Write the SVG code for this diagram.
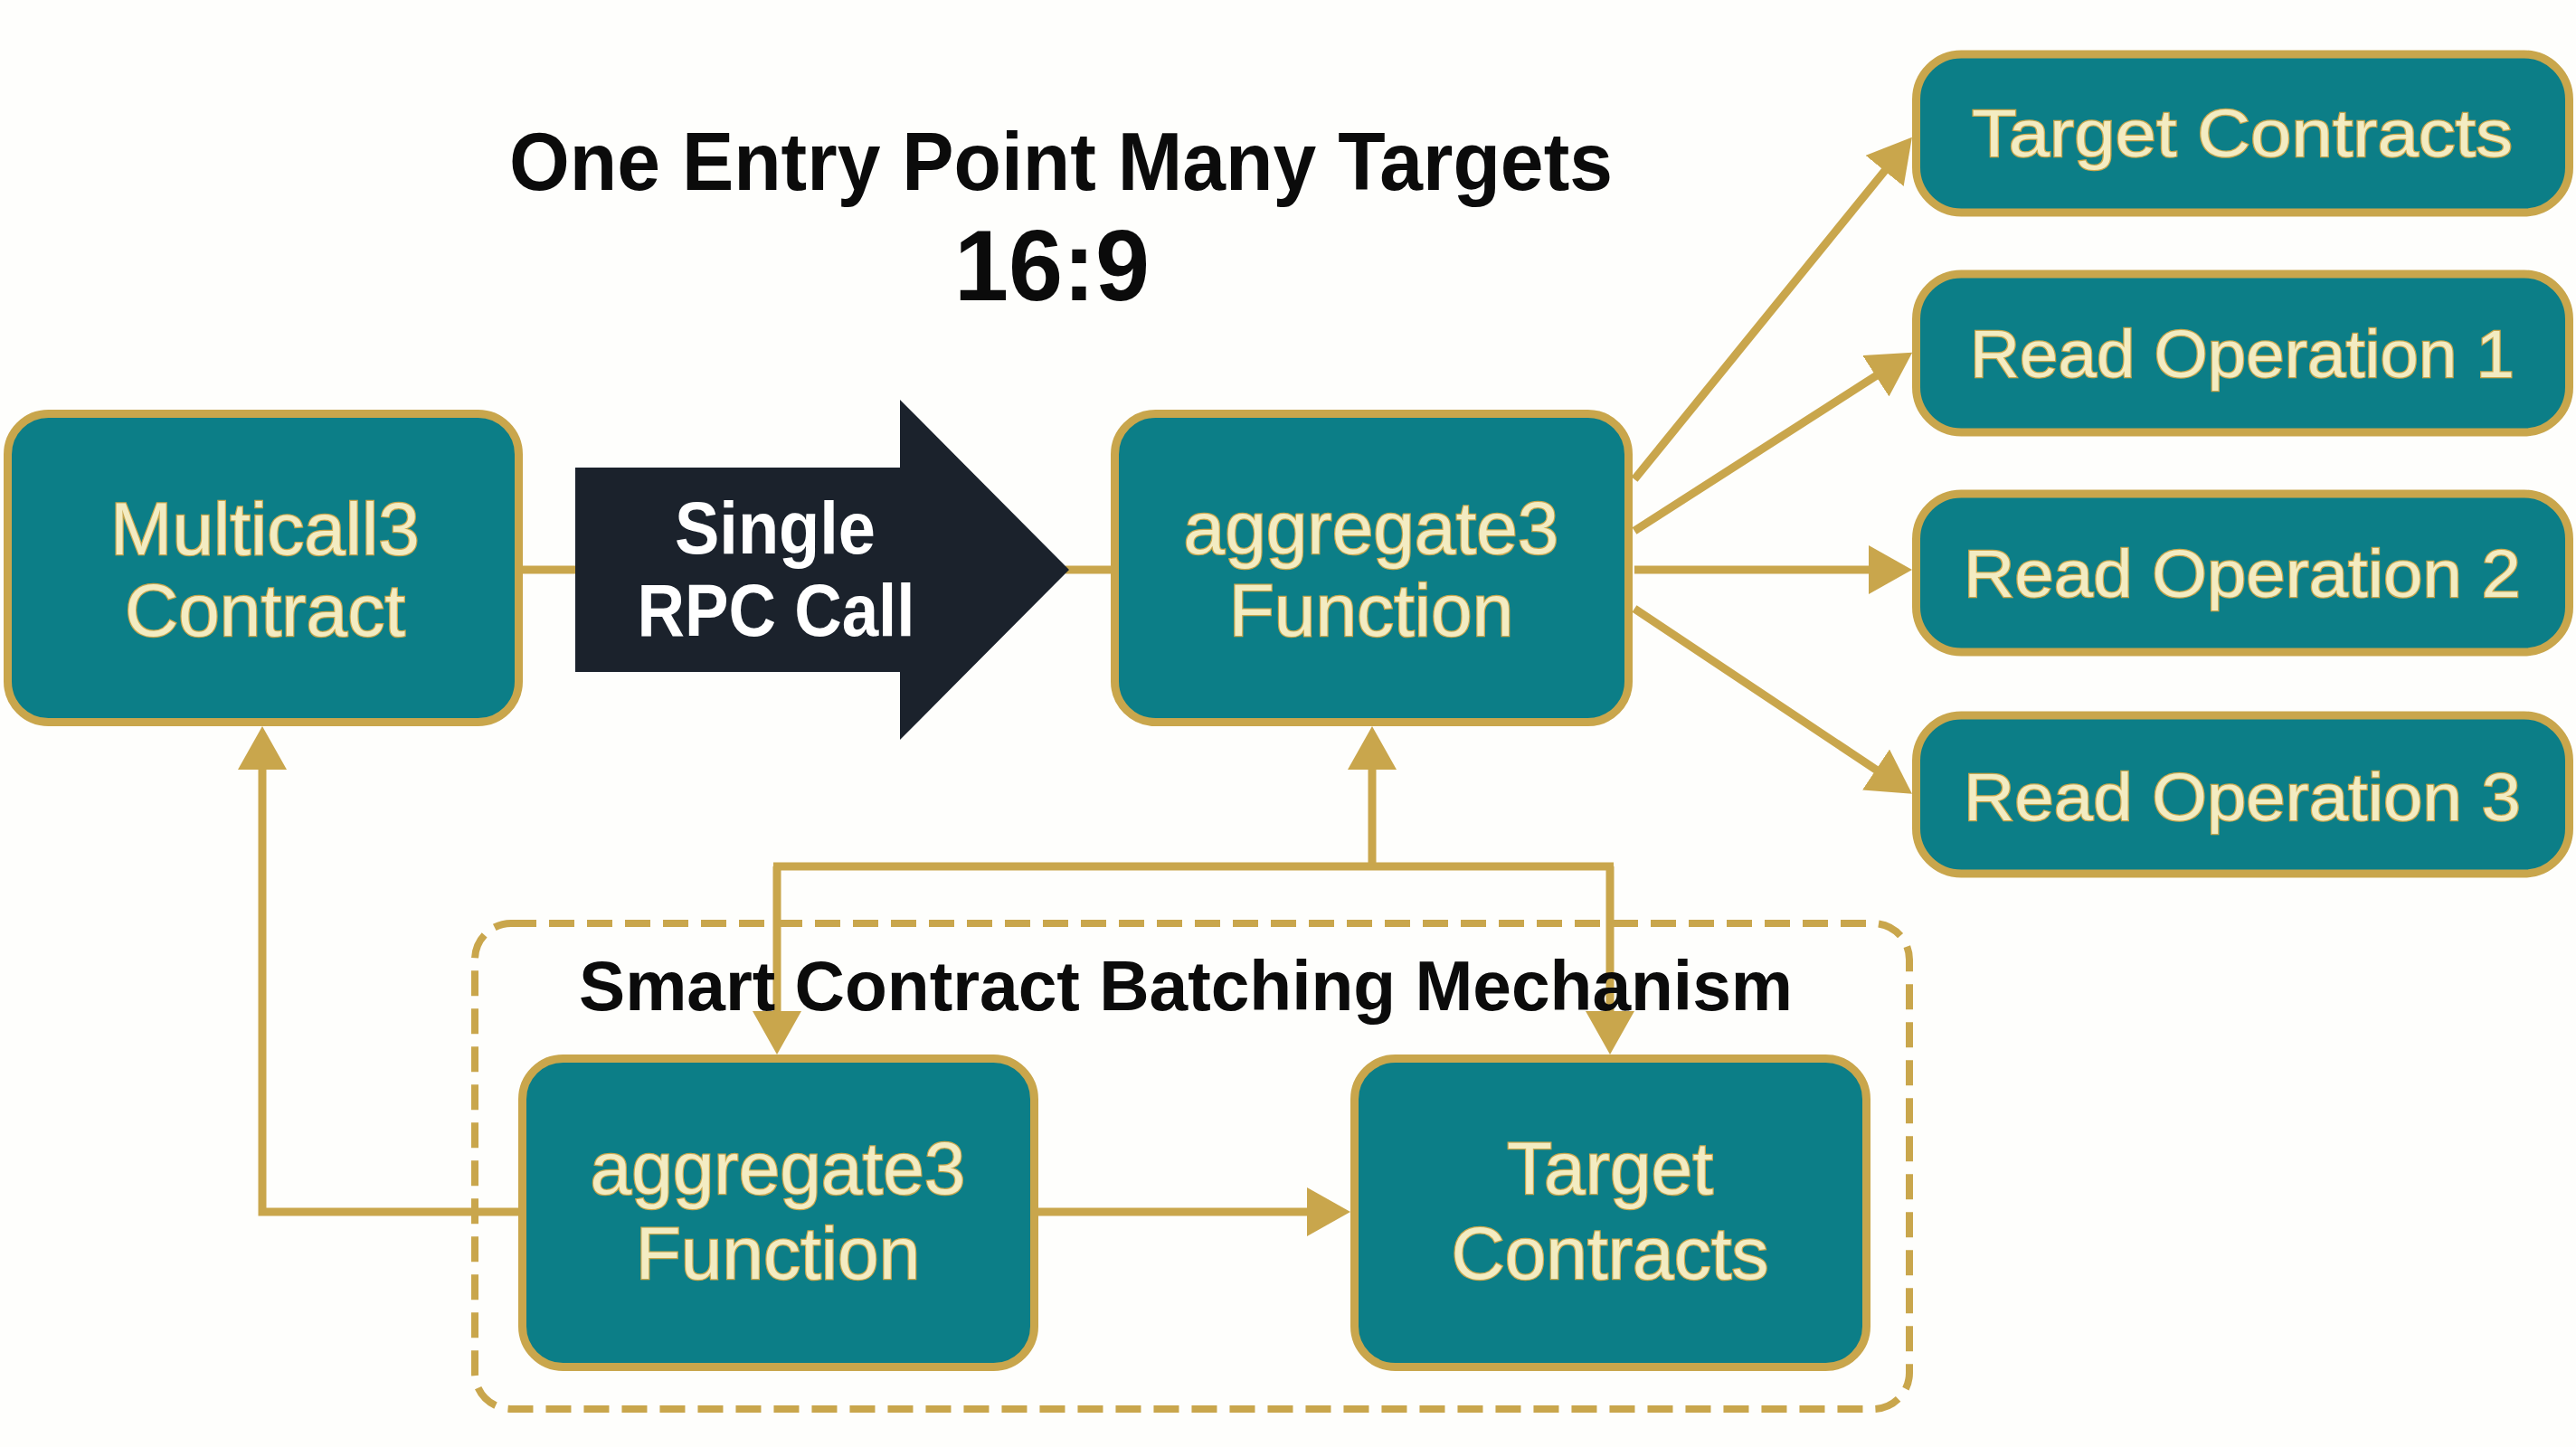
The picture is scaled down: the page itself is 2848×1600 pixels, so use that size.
<svg xmlns="http://www.w3.org/2000/svg" width="2848" height="1600" viewBox="0 0 2848 1600">
<style>
.bg{fill:#fefefc}
.box{fill:#0c7e87;stroke:#c9a64c;stroke-width:9}
.lbl{font-family:"Liberation Sans",Arial,sans-serif;font-size:82px;fill:#f3ecc2;stroke:#c9a64c;stroke-width:2.5;paint-order:stroke;text-anchor:middle}
.rl{font-size:74px}
.conn{fill:none;stroke:#c9a64c;stroke-width:9}
.dash{fill:none;stroke:#c9a64c;stroke-width:8;stroke-dasharray:28 14}
.ttl{font-family:"Liberation Sans",Arial,sans-serif;font-weight:bold;fill:#0b0b0b;text-anchor:middle}
.wt{font-family:"Liberation Sans",Arial,sans-serif;font-weight:bold;font-size:82px;fill:#ffffff;text-anchor:middle}
</style>
<defs>
<marker id="ah" markerUnits="userSpaceOnUse" markerWidth="48" markerHeight="54" viewBox="0 0 48 54" refX="18" refY="27" orient="auto">
<path d="M0,0 L48,27 L0,54 z" fill="#c9a64c"/>
</marker>
</defs>
<rect class="bg" x="0" y="0" width="2848" height="1600"/>

<g id="title">
<text class="ttl" x="1173" y="210" font-size="91" textLength="1220" lengthAdjust="spacingAndGlyphs">One Entry Point Many Targets</text>
<text class="ttl" x="1163" y="332" font-size="112" textLength="216" lengthAdjust="spacingAndGlyphs">16:9</text>
</g>

<g id="batching-group">
<rect class="dash" x="525" y="1021" width="1586" height="537" rx="40"/>
</g>

<g id="connectors">
<line class="conn" x1="578" y1="630" x2="640" y2="630"/>
<line class="conn" x1="1178" y1="630" x2="1232" y2="630"/>
<line class="conn" x1="1807" y1="530" x2="2095" y2="175" marker-end="url(#ah)"/>
<line class="conn" x1="1807" y1="587" x2="2089" y2="406" marker-end="url(#ah)"/>
<line class="conn" x1="1807" y1="630" x2="2084" y2="630" marker-end="url(#ah)"/>
<line class="conn" x1="1807" y1="673" x2="2089" y2="861" marker-end="url(#ah)"/>
<line class="conn" x1="1517" y1="958" x2="1517" y2="833" marker-end="url(#ah)"/>
<path class="conn" d="M855,958 H1784"/>
<line class="conn" x1="859" y1="958" x2="859" y2="1136" marker-end="url(#ah)"/>
<line class="conn" x1="1780" y1="958" x2="1780" y2="1136" marker-end="url(#ah)"/>
<line class="conn" x1="1148" y1="1340" x2="1463" y2="1340" marker-end="url(#ah)"/>
<path class="conn" d="M577,1340 H290 V833" marker-end="url(#ah)"/>
</g>

<g id="batching-label">
<text class="ttl" x="1311" y="1117" font-size="78" textLength="1342" lengthAdjust="spacingAndGlyphs">Smart Contract Batching Mechanism</text>
</g>

<g id="multicall3">
<rect class="box" x="8.5" y="457.5" width="565" height="341" rx="45"/>
<text class="lbl" x="293" y="613" font-size="84">Multicall3</text>
<text class="lbl" x="293" y="703" font-size="84">Contract</text>
</g>

<g id="single-rpc-call">
<path d="M636,517 H995 V442 L1182,630 L995,818 V743 H636 z" fill="#1b222c"/>
<text class="wt" x="857" y="612" textLength="222" lengthAdjust="spacingAndGlyphs">Single</text>
<text class="wt" x="858" y="703" textLength="307" lengthAdjust="spacingAndGlyphs">RPC Call</text>
</g>

<g id="aggregate3-top">
<rect class="box" x="1232.5" y="457.5" width="568" height="341" rx="45"/>
<text class="lbl" x="1516" y="612">aggregate3</text>
<text class="lbl" x="1516" y="703">Function</text>
</g>

<g id="target-contracts-top">
<rect class="box" x="2118.5" y="60" width="722" height="175" rx="50"/>
<text class="lbl rl" x="2479" y="173" textLength="598" lengthAdjust="spacingAndGlyphs">Target Contracts</text>
</g>

<g id="read-op-1">
<rect class="box" x="2118.5" y="303" width="722" height="175" rx="50"/>
<text class="lbl rl" x="2479" y="417" textLength="602" lengthAdjust="spacingAndGlyphs">Read Operation 1</text>
</g>

<g id="read-op-2">
<rect class="box" x="2118.5" y="546" width="722" height="175" rx="50"/>
<text class="lbl rl" x="2479" y="660" textLength="616" lengthAdjust="spacingAndGlyphs">Read Operation 2</text>
</g>

<g id="read-op-3">
<rect class="box" x="2118.5" y="791" width="722" height="175" rx="50"/>
<text class="lbl rl" x="2479" y="907" textLength="616" lengthAdjust="spacingAndGlyphs">Read Operation 3</text>
</g>

<g id="aggregate3-bottom">
<rect class="box" x="577.5" y="1170.5" width="566" height="341" rx="45"/>
<text class="lbl" x="860" y="1320">aggregate3</text>
<text class="lbl" x="860" y="1414">Function</text>
</g>

<g id="target-contracts-bottom">
<rect class="box" x="1497.5" y="1170.5" width="566" height="341" rx="45"/>
<text class="lbl" x="1780" y="1320">Target</text>
<text class="lbl" x="1780" y="1414">Contracts</text>
</g>
</svg>
